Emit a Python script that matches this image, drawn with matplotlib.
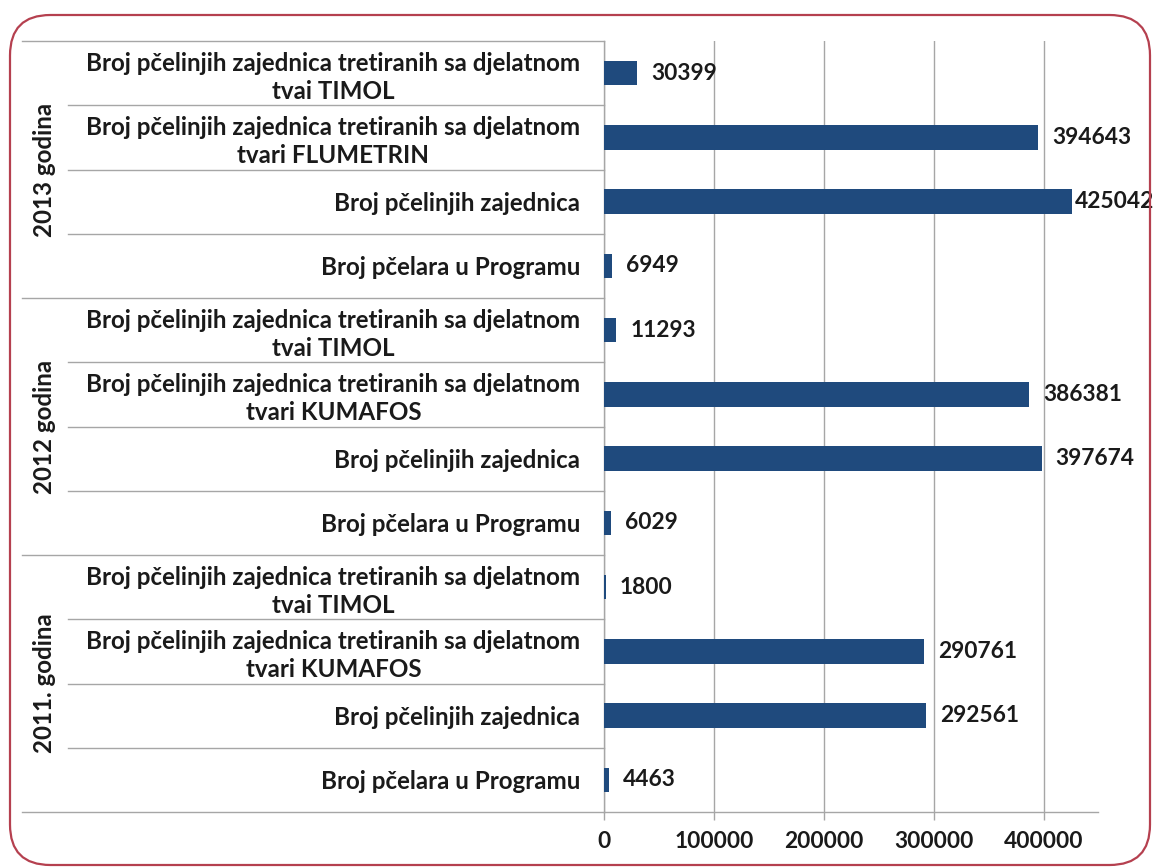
import matplotlib
matplotlib.use("Agg")
import matplotlib.pyplot as plt
from matplotlib import transforms
from matplotlib.patches import FancyBboxPatch

# ---- data ----
groups = ['2011. godina', '2012 godina', '2013 godina']
labels_2011 = ['Broj pčelara u Programu', 'Broj pčelinjih zajednica',
               'Broj pčelinjih zajednica tretiranih sa djelatnom\ntvari KUMAFOS',
               'Broj pčelinjih zajednica tretiranih sa djelatnom\ntvai TIMOL']
labels_2012 = ['Broj pčelara u Programu', 'Broj pčelinjih zajednica',
               'Broj pčelinjih zajednica tretiranih sa djelatnom\ntvari KUMAFOS',
               'Broj pčelinjih zajednica tretiranih sa djelatnom\ntvai TIMOL']
labels_2013 = ['Broj pčelara u Programu', 'Broj pčelinjih zajednica',
               'Broj pčelinjih zajednica tretiranih sa djelatnom\ntvari FLUMETRIN',
               'Broj pčelinjih zajednica tretiranih sa djelatnom\ntvai TIMOL']
values_2011 = [4463, 292561, 290761, 1800]
values_2012 = [6029, 397674, 386381, 11293]
values_2013 = [6949, 425042, 394643, 30399]
xticks = [0, 100000, 200000, 300000, 400000]

labels = labels_2011 + labels_2012 + labels_2013
values = values_2011 + values_2012 + values_2013
group_sizes = [len(labels_2011), len(labels_2012), len(labels_2013)]

FONT = 'Lato'
FS = 17.4
FS_VAL = 16.4
BAR = '#1F4A7D'
GRID = '#a6a6a6'
TXT = '#1a1a1a'

W, H = 1156, 868
fig = plt.figure(figsize=(W / 100, H / 100), dpi=100)
fig.patch.set_facecolor('white')

x0px, x1px, ytop, ybot = 604, 1098, 41, 812
ax = fig.add_axes([x0px / W, 1 - ybot / H, (x1px - x0px) / W, (ybot - ytop) / H])

ypos = list(range(len(values)))
ax.barh(ypos, values, height=0.38, color=BAR, zorder=3)
ax.set_ylim(-0.5, len(values) - 0.5)
ax.set_xlim(0, 449000)

ax.set_yticks(ypos)
ax.set_yticklabels(labels, fontfamily=FONT, fontweight='bold', fontsize=FS,
                   color=TXT, multialignment='center', linespacing=1.25)
ax.tick_params(axis='y', length=0, pad=17)

ax.set_xticks(xticks)
ax.set_xticklabels([str(v) for v in xticks], fontfamily=FONT, fontweight='bold',
                   fontsize=FS_VAL, color=TXT)
ax.tick_params(axis='x', length=6, width=1, color=GRID, pad=8, direction='out')
ax.grid(axis='x', color=GRID, linewidth=1, zorder=0)
ax.set_axisbelow(True)
for s in ['top', 'right']:
    ax.spines[s].set_visible(False)
for s in ['left', 'bottom']:
    ax.spines[s].set_color(GRID)
    ax.spines[s].set_linewidth(1)

# value labels
renderer = fig.canvas.get_renderer()
for y, v in zip(ypos, values):
    off = 10
    t = ax.annotate(str(v), (v, y), xytext=(off, 0), textcoords='offset points',
                    ha='left', va='center', fontfamily=FONT, fontweight='bold',
                    fontsize=FS_VAL, color=TXT)
    bb = t.get_window_extent(renderer)
    if bb.x1 > W - 2:
        shift = (bb.x1 - (W - 2)) * 72 / 100
        t.set_position((max(off - shift, 1), 0))

# category separators in label area
tr = transforms.blended_transform_factory(fig.transFigure, ax.transData)
bounds = []
acc = 0
for gs in group_sizes:
    bounds.append(acc)
    acc += gs
bounds.append(acc)
for i in range(len(values) + 1):
    yb = i - 0.5
    xstart = 22 / W if i in bounds else 68 / W
    ax.plot([xstart, x0px / W], [yb, yb], transform=tr, color=GRID,
            linewidth=1, clip_on=False, zorder=1)

# group labels
for gi, g in enumerate(groups):
    mid = bounds[gi] + group_sizes[gi] / 2 - 0.5
    ax.text(45 / W, mid, g, transform=tr, rotation=90, ha='center', va='center',
            fontfamily=FONT, fontweight='bold', fontsize=FS, color=TXT)

# rounded border
border = FancyBboxPatch((10 / W, 3 / H), 1140 / W, 850 / H,
                        boxstyle='round,pad=0,rounding_size=0.035',
                        transform=fig.transFigure, fill=False,
                        edgecolor='#b5404f', linewidth=1.6,
                        mutation_aspect=W / H)
fig.patches.append(border)

fig.savefig('out.png', dpi=100)
